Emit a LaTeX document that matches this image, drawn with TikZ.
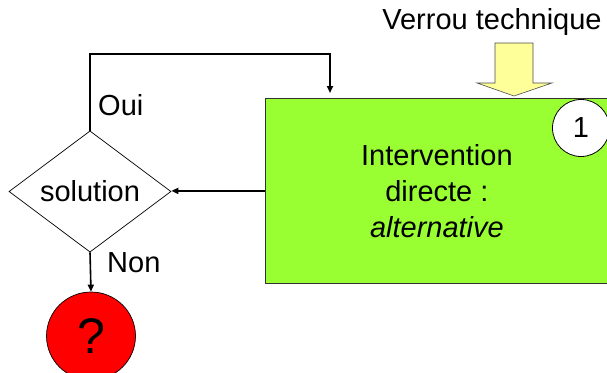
\documentclass[tikz,border=0pt]{standalone}
\usepackage{fontspec}
\setmainfont{Liberation Sans}
\usetikzlibrary{shapes.geometric,arrows.meta}
\definecolor{boxgreen}{HTML}{99FF33}
\definecolor{lockyellow}{HTML}{FFFF99}
\begin{document}
\begin{tikzpicture}[x=1pt,y=-1pt,
  txt/.style={font=\fontsize{29}{36}\selectfont, inner sep=0pt},
  conn/.style={line width=1.6pt, -{Triangle[length=7pt,width=6pt]}},
  plain/.style={line width=1.6pt}]
\useasboundingbox (0,0) rectangle (607,372);
\clip (0,0) rectangle (607,372);

\node[draw=black!80, line width=0.8pt, fill=boxgreen, anchor=north west,
      minimum width=343pt, minimum height=185pt, align=center,
      font=\fontsize{29}{36}\selectfont] (box) at (265,98)
      {Intervention\\directe :\\\textit{alternative}};

\node[draw, line width=0.8pt, fill=white, circle, minimum size=57pt, inner sep=0pt,
      font=\fontsize{29}{36}\selectfont] (one) at (581,128) {1};

\node[txt] (verrou) at (492,22) {Verrou technique};
\draw[draw=black!70, line width=0.6pt, fill=lockyellow]
  (495,43) -- (533,43) -- (533,83) -- (552,83) -- (514,96) -- (477,83) -- (495,83) -- cycle;

\node[draw, diamond, line width=0.7pt, minimum width=162pt, minimum height=108pt,
      inner sep=0pt, font=\fontsize{29}{36}\selectfont] (sol) at (90,191.5) {solution};

\node[draw, ellipse, line width=0.7pt, fill=red, minimum width=89pt, minimum height=88pt,
      inner sep=0pt, font=\fontsize{50}{60}\selectfont] (q) at (91,336) {?};

\coordinate (top) at (330,54);
\draw[conn, shorten >=5pt] (sol.north) |- (top) -- (top |- box.north);
\draw[conn] (box.west) -- (box.west -| sol.east);
\draw[conn] (sol.south) -- (q.north);

\node[txt, anchor=west] (oui) at (98,105) {Oui};
\node[txt, anchor=west] (non) at (107,263) {Non};
\end{tikzpicture}
\end{document}
